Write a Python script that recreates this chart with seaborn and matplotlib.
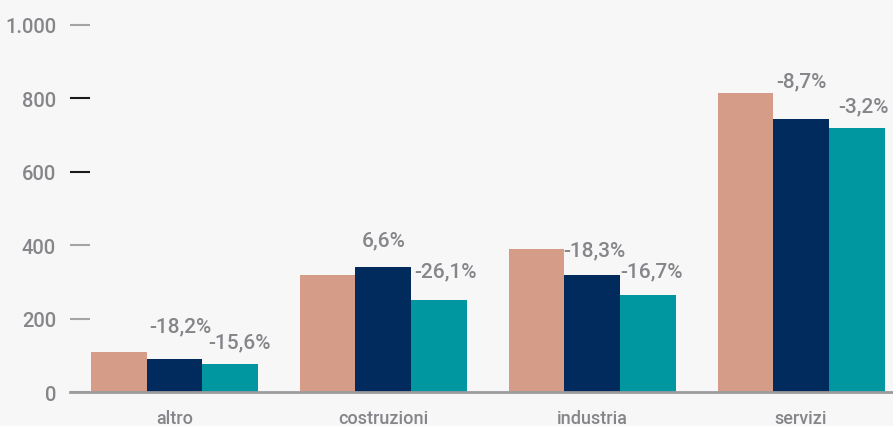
import matplotlib
matplotlib.use("Agg")
import matplotlib.pyplot as plt
import seaborn as sns
import pandas as pd

# Settori e valori per periodo
settori = ["altro", "costruzioni", "industria", "servizi"]
periodi = ["2019", "2020", "2021"]
valori_2019 = [110, 319, 390, 814]
valori_2020 = [90, 340, 318, 743]
valori_2021 = [76, 251, 265, 719]
var_2020 = ["-18,2%", "6,6%", "-18,3%", "-8,7%"]
var_2021 = ["-15,6%", "-26,1%", "-16,7%", "-3,2%"]
y_ticks = [0, 200, 400, 600, 800, 1000]
y_labels = ["0", "200", "400", "600", "800", "1.000"]

colori = ["#D59C88", "#002B5C", "#0097A0"]
bg = "#F7F7F7"
grigio = "#85858A"

# spostamento delle etichette rispetto al centro/cima della barra (pixel)
off_2020 = [(6, 33), (0, 27), (2, 26), (0, 38)]
off_2021 = [(9, 22), (6, 29), (4, 24), (7, 22)]

df = pd.DataFrame({
    "settore": settori * 3,
    "periodo": [p for p in periodi for _ in settori],
    "valore": valori_2019 + valori_2020 + valori_2021,
})

sns.set_theme(style="white")
plt.rcParams["font.family"] = ["Roboto", "DejaVu Sans"]
plt.rcParams["font.weight"] = "medium"

fig = plt.figure(figsize=(8.93, 4.27), dpi=100, facecolor=bg)
ax = fig.add_axes([70 / 893, 33.7 / 427, 823 / 893, 367.5 / 427])
ax.set_facecolor(bg)

sns.barplot(data=df, x="settore", y="valore", hue="periodo", order=settori,
            hue_order=periodi, palette=colori, width=0.8, saturation=1,
            linewidth=0, legend=False, ax=ax)

ax.set_xlim(-0.5, 3.44)
ax.set_ylim(0, 1000)
ax.set_xlabel("")
ax.set_ylabel("")

for s in ["left", "right", "top"]:
    ax.spines[s].set_visible(False)
ax.spines["bottom"].set_color("#9C9C9F")
ax.spines["bottom"].set_linewidth(2)
ax.spines["bottom"].set_zorder(3)

ax.set_yticks(y_ticks)
ax.set_yticklabels(y_labels)
ax.tick_params(axis="y", left=True, direction="in", length=14.4, width=1.5,
               pad=10, labelsize=14.5, labelcolor=grigio, color="#A4A4A8")
ax.tick_params(axis="x", bottom=False, length=0, pad=12, labelsize=13,
               labelcolor=grigio)

px = 72 / 100
for cont, labs, offs in zip(ax.containers[1:], [var_2020, var_2021],
                            [off_2020, off_2021]):
    for bar, lab, (dx, dy) in zip(cont, labs, offs):
        ax.annotate(lab, (bar.get_x() + bar.get_width() / 2, bar.get_height()),
                    xytext=(dx * px, dy * px), textcoords="offset points",
                    ha="center", va="center", fontsize=15, color=grigio)

# tacche scure per 600 e 800
fig.canvas.draw()
for tick, v in zip(ax.yaxis.get_major_ticks(), ax.get_yticks()):
    if v in (600, 800):
        tick.tick1line.set_markeredgecolor("#1A1A1A")

fig.savefig("out.png", dpi=100, facecolor=bg)
